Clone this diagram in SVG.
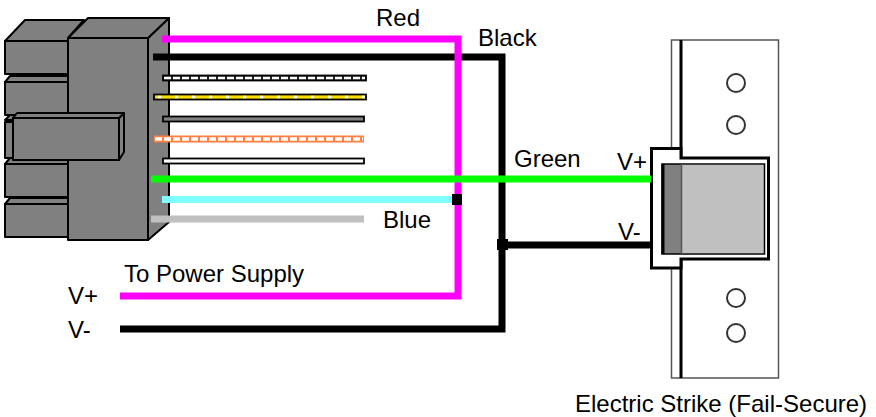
<svg xmlns="http://www.w3.org/2000/svg" width="876" height="417" viewBox="0 0 876 417">
<style>
text{font-family:"Liberation Sans",Arial,sans-serif;font-size:24px;fill:#000}
.b{fill:#808080;stroke:#000;stroke-width:2;stroke-linejoin:round}
.w{fill:none;stroke-width:7}
.s{fill:#fff;stroke:#000;stroke-width:1.800}
.d{fill:none;stroke:#fff;stroke-width:3;stroke-dasharray:7 2}
.p{fill:#fff;stroke:#333;stroke-width:2}
</style>
<rect width="876" height="417" fill="#fff"/>
<g id="connector">
<path class="b" d="M5 41L25 20H84L68 38V41Z"/>
<rect class="b" x="5" y="41" width="63" height="33"/>
<path class="b" d="M5 82L10 76H68V82Z"/>
<rect class="b" x="5" y="82" width="63" height="33"/>
<path class="b" d="M5 120L10 115H68V120Z"/>
<rect class="b" x="5" y="122" width="63" height="36"/>
<path class="b" d="M5 164L10 158H68V164Z"/>
<rect class="b" x="5" y="164" width="63" height="33"/>
<path class="b" d="M5 204L10 198H68V204Z"/>
<rect class="b" x="5" y="204" width="63" height="33"/>
<path class="b" d="M148 38L169 18V222L148 240Z"/>
<path class="b" d="M68 38L88 18H169L148 38Z"/>
<rect class="b" x="68" y="38" width="80" height="202"/>
<path class="b" d="M119 118L124 113V152L119 160Z"/>
<path class="b" d="M13 118L17 113H124L119 118Z"/>
<rect class="b" x="13" y="118" width="106" height="42"/>
</g>
<g id="unused-wires">
<rect class="s" x="163" y="75.500" width="203" height="5" style="fill:#222"/><line class="d" x1="164" y1="78" x2="365" y2="78" style="stroke-width:2.500"/>
<rect class="s" x="154" y="94.500" width="212" height="5" style="fill:#ffe000"/><line class="d" x1="158" y1="97" x2="365" y2="97" style="stroke-width:2.500;stroke-dasharray:3 14"/>
<rect class="s" x="163" y="116.500" width="201" height="5" style="fill:#808080"/>
<rect x="154" y="135.500" width="210" height="7" fill="#ff8040"/><line class="d" x1="155" y1="139" x2="363" y2="139" style="stroke-width:3.500;stroke-dasharray:7 2"/>
<rect class="s" x="163" y="158.500" width="201" height="5"/>
<rect x="151" y="215.500" width="213" height="7" fill="#c0c0c0"/>
</g>
<g id="strike">
<rect x="671.500" y="40" width="107" height="338" fill="#fff" stroke="#555" stroke-width="1.500"/>
<line x1="681" y1="40" x2="681" y2="378" stroke="#000" stroke-width="3"/>
<path d="M681 148.500H651.500V268H681V259H768.500V158H681Z" fill="#fff" stroke="#000" stroke-width="3"/>
<rect x="663" y="164" width="18" height="90" fill="#808080"/>
<rect x="682" y="165" width="82" height="88" fill="#c0c0c0"/>
<rect x="662" y="164" width="102.500" height="90" fill="none" stroke="#000" stroke-width="1.500"/>
<line x1="663" y1="164" x2="663" y2="254" stroke="#000" stroke-width="3"/>
<line x1="681.500" y1="164" x2="681.500" y2="254" stroke="#555" stroke-width="1.500"/>
<circle class="p" cx="736" cy="83" r="9"/>
<circle class="p" cx="736" cy="125" r="9"/>
<circle class="p" cx="736" cy="298" r="9"/>
<circle class="p" cx="736" cy="333" r="9"/>
</g>
<g id="connectors">
<path class="w" stroke="#000" d="M153 57H502V329H120"/>
<path class="w" stroke="#000" d="M502 245H651"/>
<path class="w" stroke="#7fffff" d="M162 199.500H458"/>
<path class="w" stroke="#ff00ff" d="M162 39H458V296H120"/>
<path class="w" stroke="#00ff00" d="M151 179H651"/>
<rect x="452" y="194" width="10" height="11" fill="#000"/>
<rect x="497" y="239" width="11" height="11" fill="#000"/>
</g>
<g id="labels">
<text x="376" y="26">Red</text>
<text x="478" y="46">Black</text>
<text x="514" y="167">Green</text>
<text x="617" y="170">V+</text>
<text x="618" y="240">V-</text>
<text x="383" y="228">Blue</text>
<text x="124" y="282">To Power Supply</text>
<text x="68" y="304">V+</text>
<text x="68" y="338">V-</text>
<text x="575" y="412">Electric Strike (Fail-Secure)</text>
</g>
</svg>
